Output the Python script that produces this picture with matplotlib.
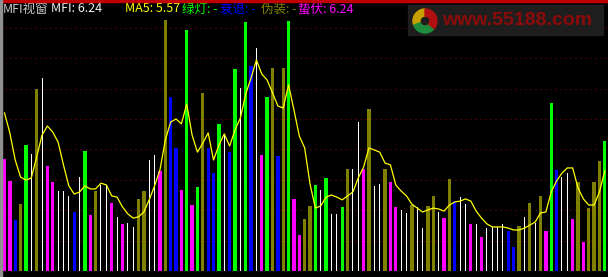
import matplotlib
matplotlib.use("Agg")
import matplotlib.pyplot as plt
from matplotlib.patches import Rectangle, Wedge, Circle

plt.rcParams['font.family'] = ['Noto Sans CJK SC', 'DejaVu Sans']

# ---- data
# bar kind: M = 蛰伏 (magenta), B = 衰退 (blue), O = 伪装 (olive), G = 绿灯 (green), W = white
kinds = list(
    "MMBOGWOWMMWWWBWGMOW"
    "WMWMWWOOWWMOBBMGMGO"
    "BBGWBGWGBWMGOBOGMMO"
    "OGWGWWGOWWMOWWOMMWW"
    "OWWOOWMOBWWMWMWWWWB"
    "BOWOWOMGBWWMOMOOOG"
)
bar_values = [
    3.68, 2.96, 1.68, 2.20, 4.14, 3.85, 5.99, 6.35, 3.45, 2.93,
    2.63, 2.63, 2.47, 1.94, 3.09, 3.95, 1.84, 2.63, 2.83, 2.83,
    2.24, 1.78, 1.55, 1.58, 1.45, 2.37, 2.63, 3.65, 3.82, 3.29,
    8.26, 5.72, 4.05, 2.66, 7.93, 2.17, 2.76, 5.86, 4.05, 3.22,
    4.84, 4.51, 3.91, 6.64, 6.02, 8.19, 6.74, 7.34, 3.82, 5.72,
    6.68, 3.78, 6.68, 8.22, 2.37, 1.18, 1.71, 2.14, 2.83, 2.66,
    3.06, 1.88, 1.88, 2.11, 3.36, 3.36, 4.90, 3.36, 5.33, 2.80,
    2.86, 3.36, 2.93, 2.11, 2.01, 1.91, 2.17, 2.11, 1.41, 2.14,
    2.47, 1.94, 1.74, 3.03, 2.30, 2.43, 2.20, 1.55, 1.55, 1.12,
    1.41, 1.45, 1.45, 1.55, 1.32, 0.79, 1.48, 1.78, 2.24, 1.58,
    2.47, 1.32, 5.53, 3.32, 3.09, 3.22, 1.71, 2.93, 0.95, 2.07,
    2.93, 3.62, 4.28,
]
ma5 = [
    5.20, 4.54, 3.65, 3.09, 2.99, 3.06, 3.75, 4.47, 4.77, 4.57,
    4.24, 3.49, 2.80, 2.53, 2.60, 2.80, 2.70, 2.70, 2.89, 2.83,
    2.47, 2.43, 2.11, 1.88, 1.74, 1.78, 1.94, 2.34, 2.80, 3.32,
    4.31, 4.90, 5.00, 4.84, 5.49, 4.47, 3.91, 4.21, 4.54, 3.65,
    4.14, 4.51, 4.11, 4.64, 5.03, 5.82, 6.35, 6.94, 6.48, 6.28,
    5.86, 5.43, 5.36, 6.12, 5.30, 4.44, 4.05, 2.86, 2.07, 2.14,
    2.43, 2.50, 2.43, 2.34, 2.47, 2.60, 3.06, 3.42, 4.05, 3.98,
    3.91, 3.55, 3.49, 2.83, 2.63, 2.47, 2.20, 2.07, 1.94, 2.01,
    2.07, 2.04, 1.97, 2.17, 2.27, 2.30, 2.37, 2.30, 1.97, 1.74,
    1.55, 1.45, 1.45, 1.45, 1.41, 1.35, 1.35, 1.41, 1.51, 1.61,
    1.91, 1.94, 2.60, 2.96, 3.22, 3.39, 3.39, 2.73, 2.37, 2.17,
    2.17, 2.60, 3.30,
]
header = [
    ("MFI视窗", "#C8C8C8"),
    ("MFI: 6.24", "#F0F0F0"),
    ("MA5: 5.57", "#FFFF00"),
    ("绿灯: -", "#00FF00"),
    ("衰退: -", "#0000FF"),
    ("伪装: -", "#808000"),
    ("蛰伏: 6.24", "#FF00FF"),
]
header_x = [3, 51, 125, 182, 220, 261, 298]

colors = {"M": "#FF00FF", "B": "#0000FF", "O": "#808000", "G": "#00FF00", "W": "#FFFFFF"}

W, H = 608, 277
fig = plt.figure(figsize=(W / 100, H / 100), dpi=100, facecolor="black")
ax = fig.add_axes([0, 6 / H, 1, 271 / H], facecolor="black")

n = len(bar_values)
x = list(range(n))
step = 5.36  # px per bar
bar_w = [0.19 if k == "W" else 0.62 for k in kinds]
bar_c = [colors[k] for k in kinds]

for g in range(1, 9):
    ax.axhline(g, color="#8B0000", lw=0.72, ls=(0, (1, 4)), zorder=0)

ax.bar(x, bar_values, width=bar_w, color=bar_c, linewidth=0, zorder=2)
ax.plot(x, ma5, color="#FFFF00", lw=0.9, zorder=3)

ax.set_xlim(-4.5 / step, (W - 4.5) / step)
ax.set_ylim(0, 271 / 30.4)
ax.axis("off")

# frame bits: red top line, grey left edge
fig.patches.append(Rectangle((0, 1 - 1.5 / H), 1, 1.5 / H, transform=fig.transFigure,
                             color="#C00000", zorder=5))
fig.patches.append(Rectangle((0, 0), 2 / W, 1, transform=fig.transFigure,
                             color="#909090", zorder=5))

# header text
for (txt, col), px in zip(header, header_x):
    fig.text(px / W, 1 - 9 / H, txt, color=col, fontsize=9, va="center", ha="left")

# watermark box
fig.patches.append(Rectangle((408 / W, 1 - 35 / H), 195 / W, 30 / H, transform=fig.transFigure,
                             color="#1E1E1E", zorder=4))
cx, cy, r = 425 / W, 1 - 21 / H, 12
for a1, a2, c in [(90, 200, "#C8A000"), (200, 320, "#1E8C3C"), (320, 450, "#B01010")]:
    fig.patches.append(Wedge((425, H - 21), r, a1, a2, width=7, color=c,
                             transform=None, zorder=6))
fig.text(442 / W, 1 - 20.5 / H, "www.55188.com", color="#8C0A0A", fontsize=14,
         fontweight="bold", family="Liberation Sans", va="center", ha="left", zorder=7)

fig.savefig("out.png", dpi=100, facecolor="black")
